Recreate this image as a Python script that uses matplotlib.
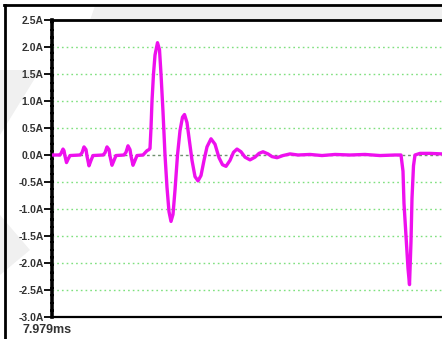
import matplotlib
matplotlib.use("Agg")
import matplotlib.pyplot as plt
from matplotlib.lines import Line2D
from matplotlib.patches import Polygon

# capture window: time in microseconds after the trigger at 7.979 ms
start_label = "7.979ms"
time_us = [0, 8, 9, 11, 12, 13, 14.5, 16, 18,
           28, 30, 32, 34, 35, 37, 39, 41,
           51, 53, 55, 57, 58, 60, 62, 64,
           72, 74, 76, 78, 79, 81, 83, 85,
           91, 93, 95, 97, 98, 99, 100, 101.5, 103, 105.5, 107.5, 109, 111,
           113, 115, 117, 119, 121, 123, 125.5, 128, 130.5, 132.5, 135,
           137.5, 140, 143, 146, 149, 152, 155, 159, 163, 167, 170.5, 174,
           178, 181.5, 185, 189, 193, 198, 203, 207, 211, 216, 220, 225,
           231, 238, 246, 258, 270, 283, 298, 313, 328, 343, 349,
           351, 352, 354, 356, 357.5, 359, 360, 361.5, 363, 368, 378, 390]
current_a = [0.0, 0.0, 0.03, 0.11, 0.08, -0.02, -0.14, -0.08, -0.01,
             0.0, 0.04, 0.15, 0.10, -0.02, -0.20, -0.10, -0.01,
             0.0, 0.04, 0.15, 0.10, -0.02, -0.19, -0.10, -0.01,
             0.0, 0.05, 0.17, 0.10, -0.02, -0.19, -0.10, -0.01,
             0.0, 0.04, 0.08, 0.10, 0.12, 0.5, 1.0, 1.5, 1.85, 2.08, 1.95, 1.5, 0.8,
             0.0, -0.6, -1.05, -1.23, -1.1, -0.65, 0.0, 0.45, 0.7, 0.75, 0.6,
             0.25, -0.1, -0.4, -0.48, -0.38, -0.1, 0.15, 0.3, 0.2, -0.05, -0.18, -0.21,
             -0.1, 0.05, 0.11, 0.06, -0.04, -0.09, -0.04, 0.03, 0.06, 0.02, -0.03, -0.05,
             -0.01, 0.02, 0.0, 0.01, -0.01, 0.01, 0.0, 0.01, -0.01, 0.0, 0.0,
             -0.3, -0.9, -1.5, -2.1, -2.4, -1.6, -0.8, -0.2, 0.0, 0.03, 0.03, 0.02]

y_ticks = [-3.0, -2.5, -2.0, -1.5, -1.0, -0.5, 0.0, 0.5, 1.0, 1.5, 2.0, 2.5]
grid_levels = [-2.5, -2.0, -1.5, -1.0, -0.5, 0.5, 1.0, 1.5, 2.0]

W, H = 442, 339
fig = plt.figure(figsize=(W / 100, H / 100), dpi=100)
fig.patch.set_facecolor("white")

# faint watermark showing only in the margins
for pts in ([(95, 6), (442, 6), (442, 20), (90, 20)],
            [(0, 70), (40, 70), (0, 135)],
            [(0, 215), (30, 250), (0, 275)]):
    band = Polygon([(x / W, 1 - y / H) for x, y in pts], closed=True,
                   transform=fig.transFigure, facecolor="#f0f0f0",
                   edgecolor="none", zorder=0)
    fig.add_artist(band)

ax = fig.add_axes([52 / W, 1 - 317 / H, 390 / W, 297 / H])
ax.set_facecolor("white")
ax.set_zorder(1)
ax.set_xlim(0, 390)
ax.set_ylim(-3.0, 2.5)

for lvl in grid_levels:
    ax.axhline(lvl, color="#7ee07e", lw=1.0, ls=(0, (1.2, 2.2)), zorder=1)
ax.axhline(0.0, color="#6f8f6f", lw=1.0, ls=(0, (2, 2)), zorder=1)

ax.plot(time_us, current_a, color="#ee10ee", lw=2.4,
        solid_joinstyle="round", solid_capstyle="round", zorder=3)

ax.spines["right"].set_visible(False)
ax.spines["top"].set_color("black")
ax.spines["top"].set_linewidth(2.0)
ax.spines["bottom"].set_color("black")
ax.spines["bottom"].set_linewidth(1.6)
ax.spines["left"].set_color("black")
ax.spines["left"].set_linewidth(2.6)
ax.spines["left"].set_linestyle((0, (1.5, 0.6)))

ax.set_xticks([])
ax.set_yticks(y_ticks)
ax.set_yticklabels([f"{v:.1f}A" for v in y_ticks])
ax.tick_params(axis="y", direction="out", length=6, width=1.3, color="black",
               pad=0, labelsize=7.5, labelcolor="#333333")
for lab in ax.get_yticklabels():
    lab.set_fontweight("bold")
    lab.set_family("Liberation Sans")

fig.text(47 / W, 1 - 330 / H, start_label, ha="center", va="center",
         fontsize=9, fontweight="bold", color="#333333", family="Liberation Sans")

# outer frame lines
fig.add_artist(Line2D([5 / W, 5 / W], [0, 1 - 4.5 / H], color="black", lw=2.0))
fig.add_artist(Line2D([4 / W, 1.0], [1 - 4.5 / H, 1 - 4.5 / H], color="black", lw=2.0))

fig.savefig("out.png", dpi=100)
